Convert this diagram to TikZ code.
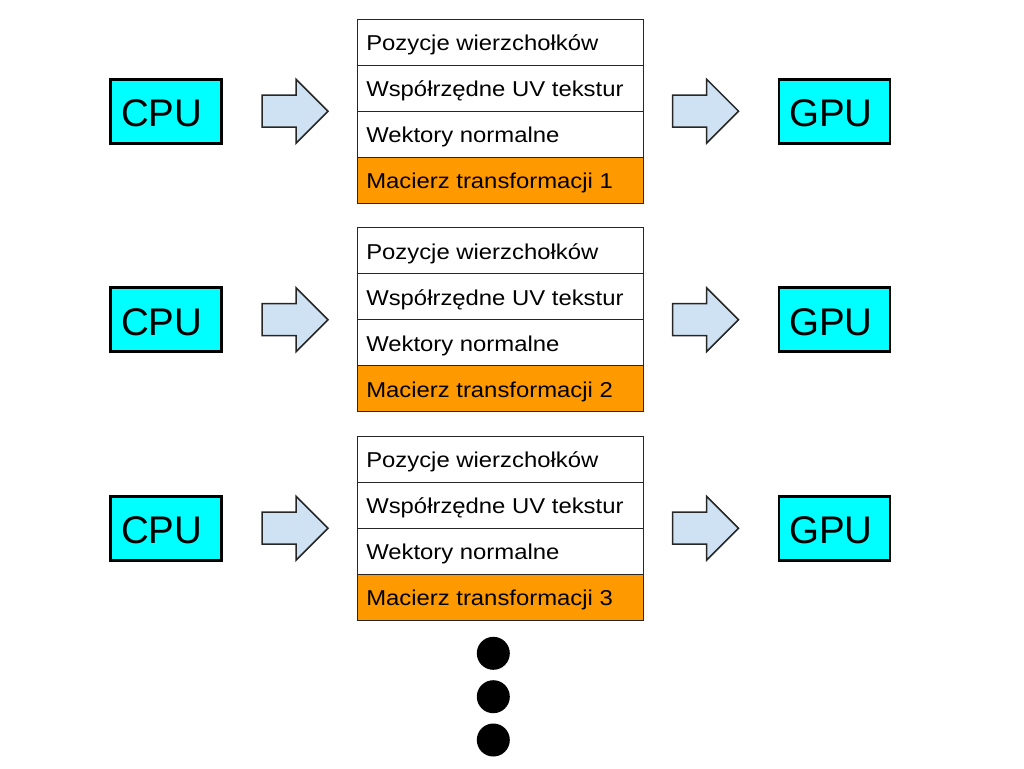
\documentclass[tikz,border=0pt]{standalone}
\usepackage{fontspec}
\setmainfont{Liberation Sans}
\newfontfamily\cellfont[FakeStretch=1.11]{Liberation Sans}
\usetikzlibrary{calc}
\definecolor{boxcyan}{HTML}{00FFFF}
\definecolor{arrowblue}{HTML}{CFE2F3}
\definecolor{matorange}{HTML}{FF9900}
\begin{document}
\begin{tikzpicture}[x=1pt,y=-1pt,
  unitbox/.style={draw=black, line width=2.7pt, fill=boxcyan, minimum width=111pt, minimum height=64pt, inner sep=0pt},
  unittext/.style={font=\fontsize{38.5}{40}\selectfont, inner sep=0pt, anchor=base west},
  cell/.style={draw=black!85, line width=1.3pt, fill=white, minimum width=286pt, minimum height=46pt, inner sep=0pt},
  celltext/.style={font=\cellfont\fontsize{21.5}{24}\selectfont, inner sep=0pt, anchor=base west},
  arrowshape/.style={draw=black!85, line width=1.5pt, fill=arrowblue, line join=miter},
  dot/.style={circle, fill=black, minimum size=33pt, inner sep=0pt},
  blockarrow/.pic={\path[arrowshape] (0,-16) -- (34,-16) -- (34,-32) -- (66,0) -- (34,32) -- (34,16) -- (0,16) -- cycle;}
]
\useasboundingbox (0,0) rectangle (1024,768);
\foreach \r/\n in {0/1,1/2,2/3}{
  \pgfmathsetmacro{\dy}{208.5*\r}
  % CPU
  \node[unitbox] (cpu\n) at (165.8,111.2+\dy) {};
  \node[unittext] (cpu\n t) at ($(cpu\n.center)+(-45,15.5)$) {CPU};
  % GPU
  \node[unitbox] (gpu\n) at (834.5,111.2+\dy) {};
  \node[unittext] (gpu\n t) at ($(gpu\n.center)+(-45.5,15.5)$) {GPU};
  % arrows
  \pic at (262,111.2+\dy) {blockarrow};
  \pic at (672.5,111.2+\dy) {blockarrow};
  % table
  \node[cell] (t\n a) at (500.3,42.3+\dy) {};
  \node[cell] (t\n b) at (500.3,88.3+\dy) {};
  \node[cell] (t\n c) at (500.3,134.3+\dy) {};
  \node[cell, fill=matorange] (t\n d) at (500.3,180.3+\dy) {};
  \node[celltext] (t\n at) at ($(t\n a.west)+(9.4,8.5)$) {Pozycje wierzchołków};
  \node[celltext] (t\n bt) at ($(t\n b.west)+(9.4,8.5)$) {Współrzędne UV tekstur};
  \node[celltext] (t\n ct) at ($(t\n c.west)+(9.4,8.5)$) {Wektory normalne};
  \node[celltext] (t\n dt) at ($(t\n d.west)+(9.4,8.5)$) {Macierz transformacji \n};
}
\node[dot] (d1) at (493.3,653.3) {};
\node[dot] (d2) at (493.3,696.7) {};
\node[dot] (d3) at (493.3,740) {};
\end{tikzpicture}
\end{document}
